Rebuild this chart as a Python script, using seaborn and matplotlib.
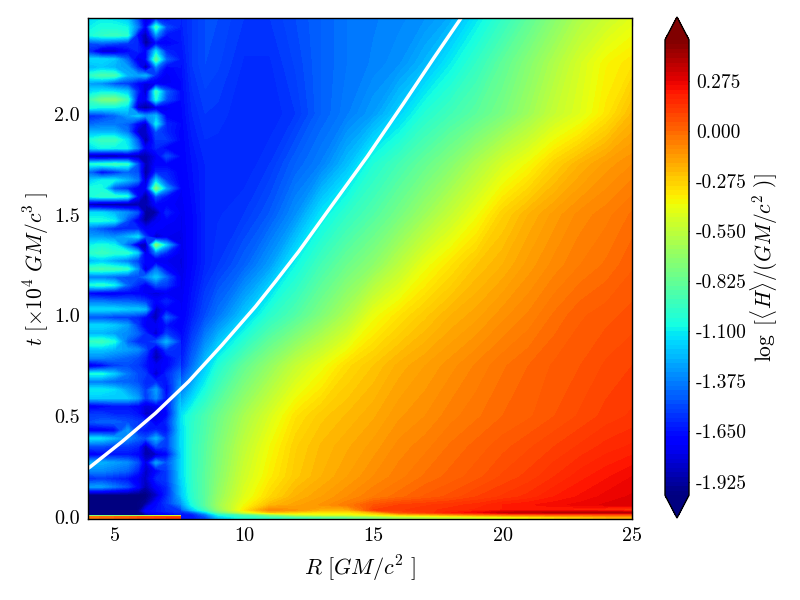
import numpy as np
import matplotlib
matplotlib.use("Agg")
import matplotlib.pyplot as plt
import seaborn as sns

# ---- outer disc field (R >= 7.6) ----
R_main = [7.6, 8, 8.5, 9, 10, 11, 12, 13, 14, 15, 16, 17, 18, 19, 20, 21, 22, 23, 24, 25]
t_main = [-0.01, 0.0, 0.012, 0.022, 0.035, 0.06, 0.1, 0.2, 0.35, 0.5, 0.75, 1.0, 1.25, 1.5, 1.75, 2.0, 2.25, 2.48]
H_main = [
 [-1.65,-1.65,-1.50,-1.20,-1.00,-0.95,-0.90,-0.85,-0.80,-0.70,-0.60,-0.55,-0.50,-0.45,-0.40,-0.35,-0.30,-0.25,-0.20,-0.20],
 [-1.65,-1.65,-1.50,-1.20,-1.00,-0.95,-0.90,-0.85,-0.80,-0.70,-0.60,-0.55,-0.50,-0.45,-0.40,-0.35,-0.30,-0.25,-0.20,-0.20],
 [-1.65,-1.62,-1.40,-1.05,-0.90,-0.70,-0.50,-0.42,-0.42,-0.35,-0.25,-0.20,-0.12,-0.05, 0.00, 0.02, 0.05, 0.05, 0.05, 0.05],
 [-1.60,-1.50,-1.20,-0.85,-0.50,-0.25,-0.30,-0.35,-0.35,-0.22, 0.05, 0.12, 0.20, 0.25, 0.35, 0.37, 0.38, 0.38, 0.38, 0.38],
 [-1.45,-1.20,-0.95,-0.70,-0.35,-0.08,-0.12,-0.20,-0.20, 0.10, 0.12, 0.14, 0.16, 0.18, 0.20, 0.20, 0.20, 0.18, 0.15, 0.10],
 [-1.30,-1.05,-0.85,-0.65,-0.40,-0.22,-0.16,-0.12,-0.05, 0.05, 0.10, 0.12, 0.14, 0.16, 0.20, 0.22, 0.24, 0.26, 0.28, 0.30],
 [-1.20,-1.00,-0.85,-0.68,-0.45,-0.30,-0.20,-0.15,-0.10,-0.05,-0.01, 0.03, 0.06, 0.10, 0.13, 0.16, 0.20, 0.23, 0.26, 0.28],
 [-1.15,-0.98,-0.85,-0.72,-0.50,-0.36,-0.26,-0.20,-0.15,-0.10,-0.06,-0.02, 0.01, 0.04, 0.08, 0.11, 0.15, 0.19, 0.22, 0.25],
 [-1.15,-0.98,-0.87,-0.75,-0.55,-0.40,-0.28,-0.22,-0.18,-0.14,-0.09,-0.06,-0.02, 0.01, 0.04, 0.07, 0.10, 0.13, 0.16, 0.18],
 [-1.12,-1.00,-0.90,-0.80,-0.62,-0.47,-0.33,-0.26,-0.22,-0.18,-0.13,-0.10,-0.06,-0.03, 0.00, 0.02, 0.05, 0.08, 0.11, 0.13],
 [-1.60,-1.42,-1.20,-1.03,-0.83,-0.68,-0.53,-0.42,-0.31,-0.25,-0.19,-0.15,-0.11,-0.07,-0.03, 0.00, 0.03, 0.05, 0.08, 0.10],
 [-1.72,-1.62,-1.50,-1.40,-1.20,-1.00,-0.88,-0.74,-0.60,-0.42,-0.33,-0.26,-0.20,-0.16,-0.11,-0.07,-0.02, 0.02, 0.04, 0.06],
 [-1.78,-1.68,-1.60,-1.55,-1.45,-1.30,-1.08,-0.92,-0.80,-0.70,-0.56,-0.42,-0.33,-0.25,-0.20,-0.14,-0.09,-0.05,-0.02, 0.02],
 [-1.75,-1.68,-1.60,-1.58,-1.55,-1.47,-1.33,-1.12,-0.98,-0.88,-0.77,-0.65,-0.53,-0.41,-0.28,-0.20,-0.14,-0.09,-0.06,-0.02],
 [-1.70,-1.65,-1.60,-1.60,-1.60,-1.55,-1.45,-1.37,-1.22,-1.03,-0.92,-0.82,-0.72,-0.60,-0.48,-0.39,-0.28,-0.20,-0.14,-0.10],
 [-1.68,-1.60,-1.55,-1.56,-1.60,-1.60,-1.55,-1.45,-1.38,-1.30,-1.17,-1.02,-0.93,-0.85,-0.76,-0.65,-0.53,-0.45,-0.34,-0.22],
 [-1.65,-1.55,-1.50,-1.52,-1.58,-1.58,-1.52,-1.45,-1.40,-1.37,-1.33,-1.24,-1.10,-0.97,-0.84,-0.72,-0.60,-0.48,-0.38,-0.33],
 [-1.60,-1.55,-1.50,-1.50,-1.55,-1.55,-1.50,-1.45,-1.40,-1.38,-1.36,-1.33,-1.27,-1.12,-0.98,-0.85,-0.72,-0.60,-0.52,-0.45],
]

# ---- inner striped region (R <= 7.6) ----
R_inner = [4, 4.5, 5, 5.5, 5.9, 6.2, 6.6, 7.0, 7.6]
t_inner = [2.48, 2.47, 2.43, 2.39, 2.35, 2.31, 2.27, 2.23, 2.19, 2.15, 2.11, 2.07, 2.03, 1.99, 1.95, 1.91,
           1.87, 1.83, 1.79, 1.75, 1.71, 1.67, 1.63, 1.59, 1.55, 1.51, 1.47, 1.43, 1.39, 1.35, 1.31, 1.27, 1.23,
           1.19, 1.15, 1.11, 1.07, 1.03, 0.99, 0.95, 0.91, 0.87, 0.83, 0.79, 0.75, 0.71, 0.67, 0.63, 0.59,
           0.55, 0.51, 0.47, 0.43, 0.39, 0.35, 0.31, 0.27, 0.23, 0.19, 0.15, 0.11, 0.07, 0.03, 0.008, 0.004, 0.0, -0.01]
H_inner = [
 [-1.15,-1.10,-1.12,-1.20,-1.50,-1.80,-1.60,-1.65,-1.60],
 [-1.15,-1.10,-1.12,-1.20,-1.50,-1.80,-1.60,-1.65,-1.60],
 [-1.10,-1.05,-1.05,-1.08,-1.40,-1.75,-0.95,-1.50,-1.62],
 [-1.05,-0.98,-0.95,-1.00,-1.70,-1.90,-1.35,-1.65,-1.65],
 [-1.50,-1.45,-1.50,-1.55,-1.60,-1.95,-1.70,-1.70,-1.65],
 [-1.60,-1.85,-1.85,-1.70,-1.60,-1.70,-1.15,-1.60,-1.65],
 [-1.15,-1.15,-1.20,-1.45,-1.80,-1.70,-0.85,-1.45,-1.65],
 [-1.25,-1.20,-1.25,-1.30,-1.60,-1.95,-1.40,-1.70,-1.65],
 [-1.00,-0.90,-0.92,-1.25,-1.30,-1.25,-1.60,-1.75,-1.65],
 [-1.30,-1.35,-1.50,-1.55,-1.70,-1.80,-1.75,-1.75,-1.68],
 [-1.15,-1.10,-1.12,-1.20,-1.60,-1.85,-0.95,-1.45,-1.68],
 [-0.95,-0.78,-0.75,-0.95,-1.70,-1.75,-1.05,-1.50,-1.68],
 [-1.05,-1.10,-1.10,-1.15,-1.85,-1.95,-1.80,-1.75,-1.68],
 [-1.60,-1.55,-1.45,-1.30,-1.20,-1.35,-1.25,-1.70,-1.68],
 [-1.45,-1.40,-1.40,-1.45,-1.70,-1.85,-1.10,-1.60,-1.68],
 [-1.25,-1.25,-1.25,-1.40,-1.85,-1.85,-1.50,-1.60,-1.70],
 [-1.05,-0.95,-0.95,-1.15,-1.50,-1.95,-1.55,-1.55,-1.70],
 [-1.15,-1.08,-1.10,-1.10,-1.40,-1.75,-1.60,-1.70,-1.70],
 [-1.90,-1.95,-1.95,-1.90,-1.90,-1.90,-1.75,-1.50,-1.70],
 [-1.05,-1.00,-0.95,-1.00,-1.50,-1.90,-1.70,-1.70,-1.72],
 [-1.45,-1.70,-1.60,-1.45,-1.50,-1.95,-1.60,-1.60,-1.72],
 [-1.20,-1.10,-1.10,-1.25,-1.40,-1.85,-1.20,-1.55,-1.72],
 [-1.05,-1.05,-1.50,-1.60,-1.75,-1.75,-0.75,-1.30,-1.72],
 [-1.05,-1.00,-1.00,-1.05,-1.70,-1.95,-1.50,-1.65,-1.75],
 [-1.90,-1.95,-1.95,-1.95,-1.90,-1.90,-1.70,-1.70,-1.75],
 [-1.15,-1.15,-1.25,-1.35,-1.50,-1.95,-1.90,-1.60,-1.75],
 [-1.05,-1.05,-1.10,-1.50,-1.75,-1.95,-1.75,-1.70,-1.75],
 [-1.40,-1.50,-1.60,-1.60,-1.60,-1.75,-1.70,-1.75,-1.75],
 [-1.30,-1.30,-1.35,-1.25,-1.15,-1.55,-1.85,-1.75,-1.78],
 [-1.10,-1.05,-1.10,-1.45,-1.85,-1.90,-0.75,-1.20,-1.78],
 [-1.00,-0.95,-1.00,-1.00,-1.20,-1.80,-1.40,-1.60,-1.78],
 [-1.25,-1.20,-1.30,-1.40,-1.55,-1.70,-1.80,-1.75,-1.78],
 [-0.95,-0.92,-0.95,-1.00,-1.35,-1.85,-1.40,-1.70,-1.78],
 [-1.40,-1.40,-1.45,-1.50,-1.50,-1.40,-1.20,-1.45,-1.78],
 [-1.05,-1.00,-1.10,-1.45,-1.60,-1.75,-1.50,-1.55,-1.75],
 [-1.70,-1.75,-1.75,-1.70,-1.70,-1.75,-1.80,-1.75,-1.75],
 [-1.40,-1.40,-1.45,-1.45,-1.50,-1.55,-1.70,-1.60,-1.75],
 [-1.15,-1.15,-1.15,-1.20,-1.20,-1.25,-1.85,-1.70,-1.72],
 [-1.50,-1.50,-1.55,-1.55,-1.60,-1.70,-1.90,-1.45,-1.72],
 [-1.15,-1.15,-1.20,-1.30,-1.55,-1.75,-1.75,-1.65,-1.72],
 [-1.25,-1.25,-1.30,-1.35,-1.45,-1.60,-1.85,-1.55,-1.68],
 [-0.98,-0.95,-1.05,-1.45,-1.60,-1.60,-1.50,-1.25,-1.62],
 [-1.20,-1.20,-1.25,-1.30,-1.35,-1.50,-1.85,-1.55,-1.60],
 [-1.35,-1.35,-1.40,-1.45,-1.50,-1.60,-1.90,-1.70,-1.55],
 [-1.80,-1.70,-1.55,-1.50,-1.55,-1.65,-1.75,-1.70,-1.50],
 [-1.05,-1.05,-1.20,-1.40,-1.50,-1.55,-1.85,-1.60,-1.40],
 [-1.40,-1.40,-1.45,-1.45,-1.50,-1.60,-1.60,-1.65,-1.30],
 [-1.10,-1.10,-1.15,-1.30,-1.40,-1.55,-1.30,-1.70,-1.25],
 [-1.20,-1.20,-1.20,-1.20,-1.30,-1.55,-1.35,-1.65,-1.20],
 [-1.75,-1.70,-1.65,-1.65,-1.70,-1.80,-1.75,-1.65,-1.15],
 [-1.55,-1.55,-1.60,-1.60,-1.65,-1.85,-1.80,-1.70,-1.12],
 [-1.50,-1.45,-1.45,-1.50,-1.55,-1.55,-1.75,-1.60,-1.12],
 [-1.75,-1.75,-1.70,-1.30,-1.60,-1.65,-1.60,-1.65,-1.12],
 [-1.12,-1.15,-1.25,-1.35,-1.45,-1.50,-1.25,-1.55,-1.12],
 [-1.50,-1.50,-1.55,-1.55,-1.60,-1.90,-1.50,-1.55,-1.12],
 [-1.75,-1.70,-1.65,-1.65,-1.70,-1.90,-1.85,-1.70,-1.15],
 [-1.25,-1.25,-1.30,-1.35,-1.50,-1.80,-1.30,-1.50,-1.15],
 [-1.35,-1.35,-1.40,-1.45,-1.60,-1.85,-1.70,-1.55,-1.15],
 [-1.60,-1.55,-1.60,-1.65,-1.75,-1.85,-1.60,-1.55,-1.15],
 [-1.30,-1.30,-1.40,-1.50,-1.70,-1.90,-1.70,-1.60,-1.18],
 [-2.00,-2.00,-2.00,-2.00,-2.00,-2.00,-1.85,-1.60,-1.20],
 [-2.00,-2.00,-2.00,-2.00,-2.00,-1.95,-1.70,-1.55,-1.30],
 [-2.00,-2.00,-2.00,-2.00,-2.00,-1.70,-1.65,-1.60,-1.55],
 [-2.00,-2.00,-2.00,-2.00,-2.00,-1.95,-1.80,-1.75,-1.65],
 [-0.35,-0.35,-0.35,-0.30,-0.30,-0.25,-0.20,-0.20,-0.15],
 [-0.05,-0.02, 0.00, 0.02, 0.05, 0.05, 0.08, 0.10, 0.10],
 [-0.05,-0.02, 0.00, 0.02, 0.05, 0.05, 0.08, 0.10, 0.10],
]

# ---- white curve ----
R_curve = [3.9, 4.07, 5.29, 6.58, 7.86, 9.15, 10.44, 11.21, 12.11, 13.22, 14.76, 16.17, 17.33, 18.34, 18.5]
t_curve = [0.235, 0.25, 0.374, 0.515, 0.672, 0.853, 1.043, 1.167, 1.316, 1.514, 1.787, 2.052, 2.275, 2.465, 2.495]

cbar_ticks = [-1.925, -1.65, -1.375, -1.1, -0.825, -0.55, -0.275, 0.0, 0.275]
cbar_labels = ["-1.925", "-1.650", "-1.375", "-1.100", "-0.825", "-0.550", "-0.275", "0.000", "0.275"]
x_ticks = [5, 10, 15, 20, 25]
y_ticks = [0.0, 0.5, 1.0, 1.5, 2.0]

sns.set_theme(style="ticks")
plt.rcParams.update({
    "font.family": ["cmr10", "DejaVu Serif"],
    "mathtext.fontset": "cm",
    "axes.formatter.use_mathtext": True,
    "axes.unicode_minus": False,
    "xtick.direction": "in", "ytick.direction": "in",
    "xtick.top": True, "ytick.right": True,
    "axes.edgecolor": "black", "xtick.color": "black", "ytick.color": "black",
    "text.color": "black", "axes.labelcolor": "black",
})

W, H = 800, 600
fig = plt.figure(figsize=(8, 6), dpi=100, facecolor="white")
ax = fig.add_axes([88 / W, 1 - 519 / H, 544 / W, 501 / H])
cax = fig.add_axes([665 / W, 1 - 518 / H, 24 / W, 501 / H])

levels = np.arange(-2.0, 0.5001, 0.025)
ax.contourf(R_inner, t_inner, np.array(H_inner), levels=levels, cmap="jet", extend="both")
cf = ax.contourf(R_main, t_main, np.array(H_main), levels=levels, cmap="jet", extend="both")

sns.lineplot(x=R_curve, y=t_curve, color="white", lw=2.5, ax=ax, legend=False, sort=False)

ax.set_xlim(3.97, 25)
ax.set_ylim(-0.01, 2.475)
ax.set_xticks(x_ticks)
ax.set_xticklabels([str(v) for v in x_ticks])
ax.set_yticks(y_ticks)
ax.set_yticklabels([f"{v:.1f}" for v in y_ticks])
ax.tick_params(length=6, width=0.8, labelsize=14.5, pad=6)
for s in ax.spines.values():
    s.set_linewidth(1.0)
ax.set_xlabel(r"$R\ [GM/c^2\ ]$", fontsize=16, labelpad=6)
ax.set_ylabel(r"$t\ [\times 10^4\ GM/c^3\ ]$", fontsize=15.5, labelpad=2)

cb = fig.colorbar(cf, cax=cax, ticks=cbar_ticks, drawedges=False)
cb.ax.set_yticklabels(cbar_labels)
cb.ax.tick_params(direction="in", length=5, width=0.8, labelsize=14, pad=5, right=True)
cb.outline.set_linewidth(1.0)
cb.set_label(r"$\log\ [\langle H\rangle/(GM/c^2\ )]$", fontsize=15.5, labelpad=1)

fig.savefig("out.png", dpi=100)
